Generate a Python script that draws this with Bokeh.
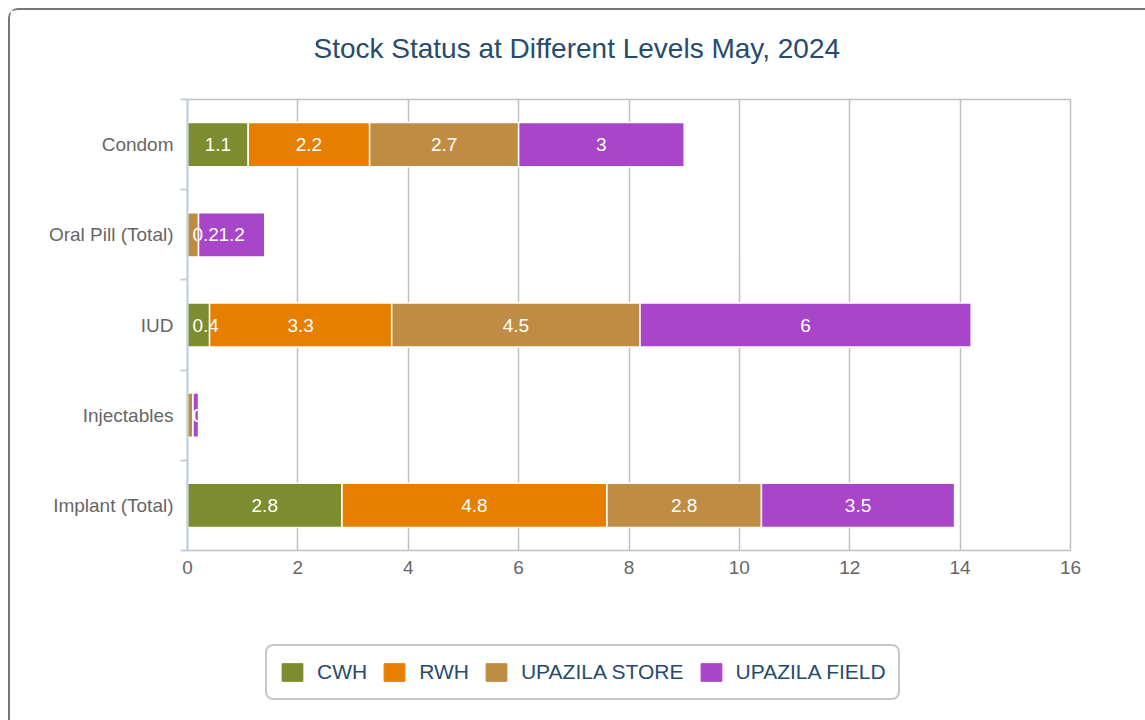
import numpy as np
from bokeh.plotting import figure
from bokeh.layouts import column
from bokeh.models import (ColumnDataSource, FixedTicker, Range1d, Legend, LegendItem,
                          LabelSet)
from bokeh.core.properties import value
from bokeh.embed import file_html
from bokeh.resources import INLINE

# ---- data ----
categories = ["Condom", "Oral Pill (Total)", "IUD", "Injectables", "Implant (Total)"]
series_names = ["CWH", "RWH", "UPAZILA STORE", "UPAZILA FIELD"]
cwh = [1.1, 0.0, 0.4, 0.0, 2.8]
rwh = [2.2, 0.0, 3.3, 0.0, 4.8]
upazila_store = [2.7, 0.2, 4.5, 0.1, 2.8]
upazila_field = [3.0, 1.2, 6.0, 0.1, 3.5]
x_ticks = [0, 2, 4, 6, 8, 10, 12, 14, 16]
title_text = "Stock Status at Different Levels May, 2024"

colors = ["#7c8c2e", "#e67e00", "#bf8c44", "#a845c8"]
FONT = "Liberation Sans"

series = [cwh, rwh, upazila_store, upazila_field]
keys = ["cwh", "rwh", "store", "field"]
ypos = list(range(len(categories)))

src = ColumnDataSource(dict(y=ypos, **{k: v for k, v in zip(keys, series)}))

p = figure(width=1135, height=580, output_backend="svg", toolbar_location=None,
           x_range=Range1d(0, 16), y_range=Range1d(len(categories) - 0.5, -0.5),
           min_border_left=177, min_border_right=75, min_border_top=89,
           min_border_bottom=40)
p.background_fill_color = "white"
p.border_fill_color = "white"
p.outline_line_color = "#c0c0c0"
p.outline_line_width = 1.5

renderers = p.hbar_stack(keys, y="y", height=0.49, color=colors, line_color="white",
                         line_width=1.5, source=src)

# data labels
lx, ly, lt = [], [], []
for i in range(len(categories)):
    cum = 0.0
    for s in series:
        v = s[i]
        if v > 0:
            c = cum + v / 2.0
            lx.append(max(c, 0.33))
            ly.append(ypos[i])
            lt.append(f"{v:g}")
        cum += v
lab_src = ColumnDataSource(dict(x=lx, y=ly, t=lt))
p.add_layout(LabelSet(x="x", y="y", text="t", source=lab_src, text_color="white",
                      text_font=value(FONT), text_font_size="19px", text_align="center",
                      text_baseline="middle"))

# axes
p.xaxis.ticker = FixedTicker(ticks=x_ticks)
p.xaxis.axis_line_color = None
p.xaxis.major_tick_line_color = None
p.xaxis.minor_tick_line_color = None
p.xaxis.major_tick_out = 0
p.xaxis.major_tick_in = 0
p.xaxis.minor_tick_out = 0
p.xaxis.major_label_text_color = "#666666"
p.xaxis.major_label_text_font = FONT
p.xaxis.major_label_text_font_size = "19px"
p.xaxis.major_label_standoff = 10

p.yaxis.ticker = FixedTicker(ticks=ypos,
                             minor_ticks=[i - 0.5 for i in range(len(categories) + 1)])
p.yaxis.major_label_overrides = {i: c for i, c in enumerate(categories)}
p.yaxis.axis_line_color = "#c0d0e0"
p.yaxis.axis_line_width = 2
p.yaxis.major_tick_line_color = None
p.yaxis.minor_tick_line_color = "#c0d0e0"
p.yaxis.minor_tick_line_width = 2
p.yaxis.minor_tick_out = 7
p.yaxis.minor_tick_in = 0
p.yaxis.major_tick_out = 0
p.yaxis.major_tick_in = 0
p.yaxis.major_label_text_color = "#666666"
p.yaxis.major_label_text_font = FONT
p.yaxis.major_label_text_font_size = "19px"
p.yaxis.major_label_standoff = 7

p.xgrid.grid_line_color = "#c0c0c0"
p.xgrid.grid_line_width = 1.5
p.ygrid.grid_line_color = None

# title (a trailing empty line lifts it away from the plot area)
p.title.text = title_text + "\n"
p.title.align = "left"
p.title.offset = 126
p.title.text_font = FONT
p.title.text_font_size = "28px"
p.title.text_color = "#274b6d"
p.title.text_font_style = "normal"
p.title.vertical_align = "bottom"
p.title.standoff = 10

# legend figure (proxy renderers outside the visible range)
lf = figure(width=1135, height=130, output_backend="svg", toolbar_location=None,
            x_range=Range1d(0, 1), y_range=Range1d(0, 1), min_border=0,
            x_axis_location=None, y_axis_location=None)
lf.outline_line_color = None
lf.grid.visible = False
lf.border_fill_color = "white"
dummy = [lf.hbar(y=[-10], left=[0], right=[0], height=0.5, color=c) for c in colors]
items = [LegendItem(label=n, renderers=[r]) for n, r in zip(series_names, dummy)]
legend = Legend(items=items, orientation="horizontal", location=(78, 20),
                label_text_font=FONT, label_text_font_size="21px",
                label_text_color="#274b6d", glyph_width=26, glyph_height=22,
                label_standoff=12, spacing=14, padding=12, label_height=28, margin=0,
                border_line_color="#909090", border_line_width=2,
                background_fill_color="white", background_fill_alpha=1.0)
if "border_radius" in Legend.properties():
    legend.border_radius = 8
lf.add_layout(legend, "center")

root = column(p, lf, spacing=0)
root.styles = {"margin-left": "8px", "margin-top": "8px",
               "border-left": "2px solid #777777", "border-top": "2px solid #777777",
               "border-top-left-radius": "10px"}

open("out.html", "w").write(file_html(root, INLINE))
